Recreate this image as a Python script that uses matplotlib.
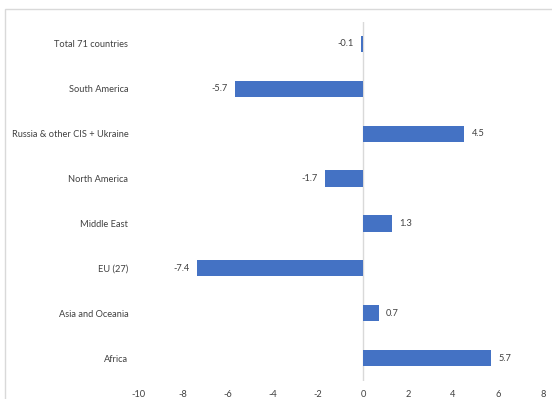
import matplotlib.pyplot as plt
import matplotlib.patches as patches
import numpy as np

regions = ["Africa", "Asia and Oceania", "EU (27)", "Middle East",
           "North America", "Russia & other CIS + Ukraine", "South America",
           "Total 71 countries"]
change = [5.7, 0.7, -7.4, 1.3, -1.7, 4.5, -5.7, -0.1]
xticks = [-10, -8, -6, -4, -2, 0, 2, 4, 6, 8]

plt.rcParams['font.family'] = ['Lato', 'DejaVu Sans']
txt = '#404040'
fs = 6.7

fig = plt.figure(figsize=(5.52, 3.99), dpi=100)
ax = fig.add_axes([138/552, 18.5/399, 405/552, 359/399])

y = np.arange(len(regions))
ax.barh(y, change, height=0.36, color='#4472C4', zorder=2)
ax.axvline(0, color='#d9d9d9', lw=1, zorder=1)

for yi, v in zip(y, change):
    if v < 0:
        ax.text(v - 0.32, yi, f"{v:.1f}", ha='right', va='center', fontsize=fs, color=txt)
    else:
        ax.text(v + 0.32, yi, f"{v:.1f}", ha='left', va='center', fontsize=fs, color=txt)

ax.set_xlim(-10, 8)
ax.set_ylim(-0.5, len(regions) - 0.5)
ax.set_xticks(xticks)
ax.set_xticklabels([str(t) for t in xticks], fontsize=fs, color=txt)
ax.set_yticks(y)
ax.set_yticklabels(regions, fontsize=fs, color=txt)
ax.tick_params(length=0)
ax.tick_params(axis='x', pad=7)
ax.tick_params(axis='y', pad=7)
for s in ax.spines.values():
    s.set_visible(False)

# outer chart border (partly cropped in the original)
fig.patches.append(patches.Rectangle((5/552, -0.1), 2, (399-9)/399 + 0.1,
                                     transform=fig.transFigure, fill=False,
                                     edgecolor='#d9d9d9', lw=1))

fig.savefig("out.png", dpi=100)
